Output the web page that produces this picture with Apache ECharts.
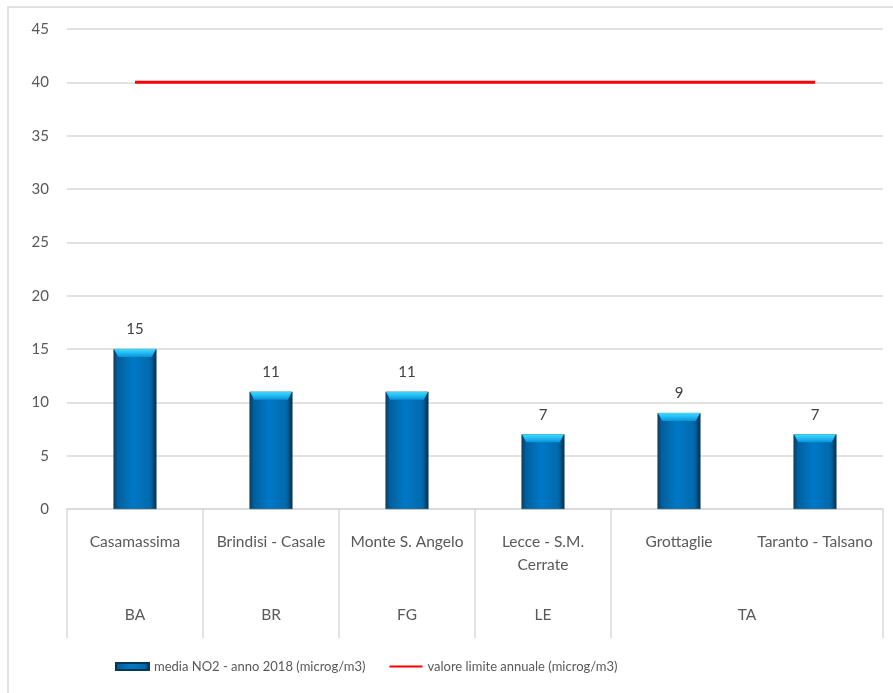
<!DOCTYPE html>
<html>
<head>
<meta charset="utf-8">
<script src="https://cdn.jsdelivr.net/npm/echarts@6/dist/echarts.min.js"></script>
<style>
  html, body { margin: 0; padding: 0; background: #fff; }
  #chart { width: 893px; height: 693px; }
</style>
</head>
<body>
<div id="chart"></div>
<script>
// stazioni e province
const stations = ["Casamassima", "Brindisi - Casale", "Monte S. Angelo", "Lecce - S.M.\nCerrate", "Grottaglie", "Taranto - Talsano"];
const provinces = ["BA", "BR", "FG", "LE", "TA"];
// centro di ogni provincia e bordi dei gruppi (in unita' di categoria)
const provinceCenters = [0.5, 1.5, 2.5, 3.5, 5];
const groupEdges = [0, 1, 2, 3, 4, 6];
const mediaNO2 = [15, 11, 11, 7, 9, 7];
const limite = [40, 40, 40, 40, 40, 40];
const yTicks = { min: 0, max: 45, interval: 5 };

const font = "Lato";
const grey = "#595959";
const gridColor = "#d9d9d9";

const chart = echarts.init(document.getElementById("chart"));

const barColor = new echarts.graphic.LinearGradient(0, 0, 1, 0, [
  { offset: 0, color: "#0b3c63" },
  { offset: 0.1, color: "#005f9e" },
  { offset: 0.45, color: "#0079c6" },
  { offset: 0.85, color: "#006aad" },
  { offset: 1, color: "#07304f" }
]);

const option = {
  animation: false,
  textStyle: { fontFamily: font },
  graphic: [
    {
      type: "rect",
      shape: { x: 8, y: 7, width: 900, height: 700 },
      style: { fill: "none", stroke: gridColor, lineWidth: 1.5 },
      silent: true
    }
  ],
  grid: { left: 67, right: 10, top: 29, bottom: 184 },
  legend: {
    left: 110,
    top: 655,
    itemGap: 24,
    itemWidth: 33,
    itemHeight: 7,
    textStyle: { fontFamily: font, fontSize: 13, color: grey },
    data: [
      { name: "media NO2 - anno 2018 (microg/m3)", icon: "rect" },
      { name: "valore limite annuale (microg/m3)", icon: "path://M0,0 L33,0 L33,2 L0,2 Z" }
    ]
  },
  xAxis: [
    {
      type: "category",
      data: stations,
      boundaryGap: true,
      axisLine: { lineStyle: { color: gridColor, width: 1.5 } },
      axisTick: { show: false },
      axisLabel: {
        interval: 0,
        margin: 21,
        fontSize: 15.5,
        lineHeight: 23,
        color: grey,
        fontFamily: font
      }
    },
    {
      type: "value",
      min: 0,
      max: 6,
      position: "bottom",
      axisLine: { show: false },
      splitLine: { show: false },
      axisTick: {
        show: true,
        customValues: groupEdges,
        length: 129,
        lineStyle: { color: gridColor, width: 1.5 }
      },
      axisLabel: {
        customValues: provinceCenters,
        margin: 98,
        fontSize: 15.5,
        color: grey,
        fontFamily: font,
        formatter: function (v) {
          const i = provinceCenters.indexOf(v);
          return i >= 0 ? provinces[i] : "";
        }
      }
    }
  ],
  yAxis: {
    type: "value",
    min: yTicks.min,
    max: yTicks.max,
    interval: yTicks.interval,
    axisLine: { show: false },
    axisTick: { show: false },
    axisLabel: { margin: 18, fontSize: 15, color: grey, fontFamily: font },
    splitLine: { lineStyle: { color: gridColor, width: 1.5 } }
  },
  series: [
    {
      name: "media NO2 - anno 2018 (microg/m3)",
      type: "bar",
      data: mediaNO2,
      barWidth: 43,
      itemStyle: { color: barColor, borderColor: "#0a3656", borderWidth: 0.5 },
      label: {
        show: true,
        position: "top",
        distance: 12,
        fontSize: 15,
        color: "#404040",
        fontFamily: font
      },
      z: 2
    },
    {
      // riflesso chiaro in cima alle barre
      type: "pictorialBar",
      data: mediaNO2,
      symbol: "path://M0,0 L20,0 L18,3 L2,3 Z",
      symbolSize: [42, 8],
      symbolPosition: "end",
      symbolOffset: [0, 0],
      itemStyle: {
        color: new echarts.graphic.LinearGradient(0, 0, 0, 1, [
          { offset: 0, color: "#40d8fd" },
          { offset: 0.5, color: "#22bcf2" },
          { offset: 1, color: "#0a8fd6" }
        ])
      },
      silent: true,
      z: 3
    },
    {
      name: "valore limite annuale (microg/m3)",
      type: "line",
      data: limite,
      symbol: "none",
      lineStyle: { color: "#ff0000", width: 3 },
      itemStyle: { color: "#ff0000" },
      z: 4
    }
  ]
};

chart.setOption(option);
</script>
</body>
</html>
